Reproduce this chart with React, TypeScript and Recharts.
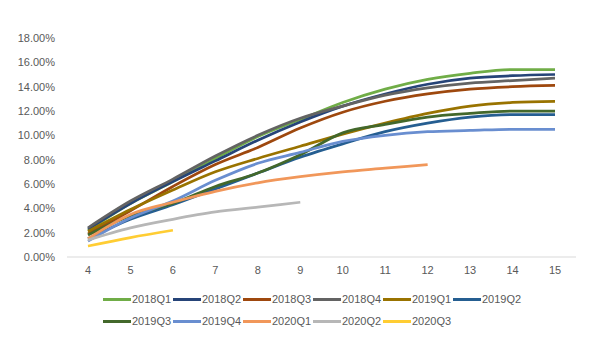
import React from "react";
import { LineChart, Line, XAxis, YAxis } from "recharts";

const categories = [4, 5, 6, 7, 8, 9, 10, 11, 12, 13, 14, 15];
const seriesNames = ["2018Q1", "2018Q2", "2018Q3", "2018Q4", "2019Q1", "2019Q2", "2019Q3", "2019Q4", "2020Q1", "2020Q2", "2020Q3"];
const seriesColors = ["#70AD47", "#264478", "#9E480E", "#636363", "#997300", "#255E91", "#43682B", "#698ED0", "#F1975A", "#B7B7B7", "#FFCD33"];

const s2018Q1 = [2.2, 4.4, 6.2, 8.1, 9.9, 11.3, 12.7, 13.8, 14.6, 15.1, 15.4, 15.4];
const s2018Q2 = [2.3, 4.4, 6.2, 7.9, 9.6, 11.1, 12.4, 13.4, 14.2, 14.7, 14.9, 15.0];
const s2018Q3 = [1.9, 3.8, 5.8, 7.6, 9.0, 10.6, 11.9, 12.8, 13.4, 13.8, 14.0, 14.1];
const s2018Q4 = [2.4, 4.6, 6.4, 8.3, 10.0, 11.4, 12.4, 13.3, 13.9, 14.3, 14.5, 14.7];
const s2019Q1 = [2.1, 3.9, 5.5, 7.0, 8.1, 9.1, 10.1, 11.0, 11.8, 12.4, 12.7, 12.8];
const s2019Q2 = [1.5, 3.1, 4.3, 5.6, 6.9, 8.2, 9.3, 10.3, 11.0, 11.5, 11.7, 11.7];
const s2019Q3 = [1.8, 3.4, 4.4, 5.8, 6.9, 8.4, 10.2, 10.9, 11.5, 11.8, 12.0, 12.0];
const s2019Q4 = [1.3, 3.2, 4.6, 6.3, 7.7, 8.6, 9.5, 10.0, 10.3, 10.4, 10.5, 10.5];
const s2020Q1 = [1.5, 3.5, 4.5, 5.4, 6.1, 6.6, 7.0, 7.3, 7.6];
const s2020Q2 = [1.4, 2.4, 3.1, 3.7, 4.1, 4.5];
const s2020Q3 = [0.9, 1.6, 2.2];

const seriesValues = [s2018Q1, s2018Q2, s2018Q3, s2018Q4, s2019Q1, s2019Q2, s2019Q3, s2019Q4, s2020Q1, s2020Q2, s2020Q3];
const yTicks = [0, 2, 4, 6, 8, 10, 12, 14, 16, 18];

const data = categories.map((c, i) => {
  const row: Record<string, number | null> = { x: c };
  seriesNames.forEach((n, k) => {
    const v = seriesValues[k][i];
    row[n] = v === undefined ? null : v;
  });
  return row;
});

const FONT = "'Liberation Sans', Arial, sans-serif";
const TEXT = "#595959";

export default function App() {
  return (
    <div style={{ position: "fixed", left: 0, top: 0, width: 611, height: 353, background: "#fff", fontFamily: FONT }}>
      <LineChart width={611} height={353} data={data} margin={{ top: 38, right: 35, left: 0, bottom: 76 }}>
        <XAxis
          dataKey="x"
          padding={{ left: 21, right: 21 }}
          axisLine={{ stroke: "#D9D9D9", strokeWidth: 1 }}
          tickLine={false}
          tickSize={0}
          tickMargin={9}
          height={20}
          tick={{ fontSize: 11, fill: TEXT, fontFamily: FONT }}
        />
        <YAxis
          domain={[0, 18]}
          ticks={yTicks}
          width={67}
          axisLine={false}
          tickLine={false}
          tickSize={0}
          tickMargin={12}
          tickFormatter={(v: number) => `${v.toFixed(2)}%`}
          tick={{ fontSize: 11, fill: TEXT, fontFamily: FONT }}
        />
        {seriesNames.map((n, k) => (
          <Line
            key={n}
            dataKey={n}
            type="monotone"
            stroke={seriesColors[k]}
            strokeWidth={2.75}
            dot={false}
            isAnimationActive={false}
            connectNulls={false}
          />
        ))}
      </LineChart>
      <div style={{ position: "absolute", left: 103, top: 290, width: 430, display: "flex", flexWrap: "wrap", rowGap: 4 }}>
        {seriesNames.map((n, k) => (
          <div key={n} style={{ width: 70, height: 18, display: "flex", alignItems: "center" }}>
            <div style={{ width: 28, height: 3, background: seriesColors[k] }} />
            <span style={{ fontSize: 11, color: TEXT, marginLeft: 1, fontFamily: FONT }}>{n}</span>
          </div>
        ))}
      </div>
    </div>
  );
}
